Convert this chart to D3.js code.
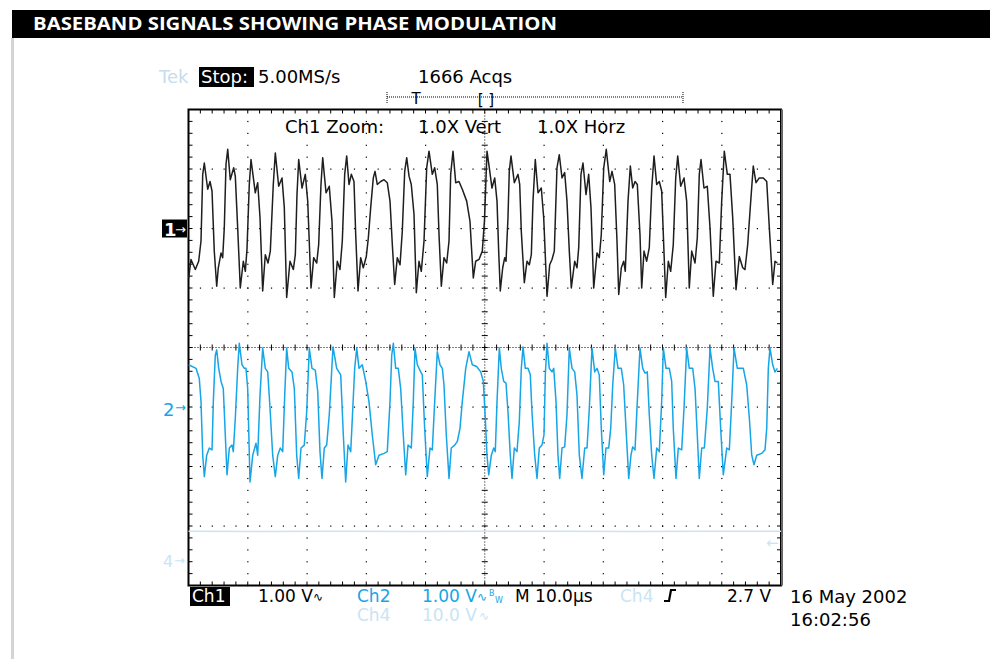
<!DOCTYPE html>
<html>
<head>
<meta charset="utf-8">
<script src="https://cdn.jsdelivr.net/npm/d3@7"></script>
<style>
  body { margin: 0; background: #fff; }
  svg text { font-family: "DejaVu Sans", sans-serif; font-size: 18px; }
</style>
</head>
<body>
<svg width="990" height="659"></svg>
<script>
// time in µs (10.0 µs/div), volts
const ch1Points = [
  [0.03,-0.83],[0.42,-0.52],[1.15,-0.69],[1.72,-0.55],[2.11,-0.21],[2.40,0.91],[2.67,1.10],[3.24,0.66],[3.63,0.79],[3.97,0.63],[4.35,-0.38],[4.76,-0.97],
  [5.03,-0.66],[5.49,-0.41],[5.77,-0.49],[6.04,0.01],[6.33,1.08],[6.62,1.33],[7.05,0.82],[7.63,1.02],[7.90,0.88],[8.30,0.01],[8.74,-1.00],
  [9.25,-0.55],[9.59,-0.72],[9.87,-0.35],[10.26,0.74],[10.55,1.16],[11.27,0.60],[11.68,0.77],[12.07,0.18],[12.52,-1.05],
  [12.96,-0.44],[13.42,-0.58],[13.81,-0.38],[14.31,0.74],[14.65,1.27],[15.22,0.71],[15.78,0.85],[16.17,0.35],[16.57,-1.16],
  [17.13,-0.55],[17.69,-0.69],[18.03,-0.44],[18.31,0.57],[18.60,1.16],[19.16,0.68],[19.71,0.91],[20.12,0.46],[20.68,-1.00],
  [21.13,-0.49],[21.64,-0.58],[21.97,-0.27],[22.36,0.74],[22.65,1.19],[23.21,0.60],[23.76,0.71],[24.22,0.12],[24.61,-1.16],
  [25.11,-0.55],[25.57,-0.69],[25.96,-0.21],[26.36,0.91],[26.70,1.22],[27.09,0.74],[27.48,0.91],[27.93,0.79],[28.22,-0.10],[28.61,-1.05],
  [29.06,-0.49],[29.50,-0.66],[30.01,-0.47],[30.35,-0.16],[30.75,0.35],[31.19,0.85],[31.48,0.96],[31.86,0.74],[32.44,0.79],[33.00,0.82],[33.55,0.77],[34.01,0.46],[34.40,-0.27],[34.80,-0.94],
  [35.24,-0.49],[35.70,-0.61],[36.08,-0.05],[36.49,0.96],[36.83,1.19],[37.22,0.88],[37.60,0.74],[38.06,0.24],[38.45,-1.08],
  [38.90,-0.55],[39.29,-0.72],[39.75,-0.21],[40.20,1.02],[40.59,1.30],[41.15,0.91],[41.55,1.02],[41.99,0.74],[42.28,-0.10],[42.67,-0.97],
  [43.12,-0.49],[43.58,-0.58],[43.97,-0.21],[44.25,0.91],[44.64,1.30],[45.10,0.77],[45.65,0.79],[46.21,0.66],[46.95,0.46],[47.51,0.12],[47.73,-0.27],[48.07,-0.83],
  [48.47,-0.55],[49.03,-0.52],[49.59,-0.38],[49.96,0.15],[50.38,1.30],[50.77,1.02],[51.22,0.68],[51.68,0.85],[52.07,0.46],[52.35,-0.38],[52.62,-1.05],
  [53.03,-0.66],[53.37,-0.49],[53.59,-0.55],[53.92,0.18],[54.14,0.96],[54.43,1.22],[54.99,0.77],[55.61,0.91],[55.90,0.74],[56.17,-0.05],[56.68,-0.91],
  [57.13,-0.55],[57.52,-0.61],[57.86,-0.44],[58.14,0.46],[58.53,1.16],[58.99,0.60],[59.54,0.68],[59.95,0.18],[60.51,-1.14],
  [60.96,-0.61],[61.35,-0.52],[61.74,-0.38],[62.19,1.02],[62.58,1.24],[63.04,0.85],[63.49,0.94],[63.88,0.46],[64.27,-0.38],[64.61,-1.00],
  [65.18,-0.55],[65.57,-0.66],[65.86,-0.32],[66.24,0.91],[66.58,1.10],[67.09,0.57],[67.54,0.91],[67.93,0.35],[68.39,-1.00],
  [68.95,-0.41],[69.33,-0.49],[69.67,-0.10],[70.08,1.02],[70.51,1.33],[71.09,0.79],[71.48,0.96],[71.93,0.74],[72.32,-0.21],[72.61,-1.11],
  [73.05,-0.66],[73.45,-0.55],[73.72,-0.72],[74.18,0.46],[74.57,1.05],[74.97,0.68],[75.36,0.79],[75.75,0.74],[76.20,-0.10],[76.49,-1.00],
  [76.88,-0.38],[77.33,-0.55],[77.77,-0.32],[78.18,0.68],[78.57,1.22],[79.02,0.74],[79.46,0.79],[79.86,0.63],[80.14,-0.10],[80.54,-1.16],
  [80.98,-0.55],[81.38,-0.72],[81.82,-0.27],[82.23,0.85],[82.57,1.22],[83.07,0.71],[83.63,0.85],[84.08,0.46],[84.52,-1.00],
  [84.93,-0.38],[85.49,-0.58],[85.87,-0.16],[86.21,0.91],[86.50,1.16],[87.00,0.68],[87.56,0.71],[88.02,0.01],[88.57,-1.14],
  [89.03,-0.55],[89.59,-0.58],[89.99,0.46],[90.43,1.30],[90.94,0.91],[91.39,0.91],[91.85,0.18],[92.41,-1.03],
  [92.96,-0.47],[93.54,-0.66],[93.92,-0.69],[94.38,-0.27],[94.89,0.46],[95.32,1.05],[95.78,0.77],[96.34,0.85],[97.01,0.85],[97.59,0.79],[98.03,0.01],[98.60,-0.94],
  [98.99,-0.55],[99.38,-0.58]
];

const ch2Points = [
  [0.03,0.71],[1.27,0.65],[1.82,0.48],[2.11,0.09],[2.40,-0.81],[2.67,-1.17],[3.07,-0.81],[3.51,-0.69],[3.97,-0.72],[4.19,0.09],[4.52,0.87],[4.76,0.96],
  [5.10,0.65],[5.49,0.43],[5.87,0.31],[6.21,-0.47],[6.50,-1.14],[6.89,-0.69],[7.34,-0.64],[7.56,-0.75],[7.90,-0.19],[8.30,0.65],[8.57,1.07],
  [9.03,0.71],[9.42,0.65],[9.70,0.65],[9.99,0.31],[10.38,-1.26],[10.84,-0.81],[11.39,-0.61],[11.68,-0.81],[12.07,0.20],[12.52,0.99],
  [12.96,0.65],[13.37,0.59],[13.76,-0.02],[14.21,-0.81],[14.65,-1.17],[15.06,-0.81],[15.49,-0.69],[15.90,-0.75],[16.24,0.20],[16.57,0.99],
  [16.91,0.65],[17.47,0.59],[17.86,0.31],[18.26,-0.81],[18.60,-1.20],[18.99,-0.69],[19.54,-0.64],[19.95,-0.08],[20.39,0.99],
  [20.84,0.65],[21.40,0.62],[21.81,0.26],[22.19,-0.75],[22.53,-1.20],[22.92,-0.69],[23.32,-0.64],[23.76,-0.13],[24.39,1.01],
  [25.01,0.65],[25.69,0.54],[26.13,-0.47],[26.53,-1.26],[26.92,-0.64],[27.38,-0.75],[27.65,-0.19],[28.05,0.65],[28.39,0.99],
  [28.78,0.65],[29.33,0.71],[29.91,0.43],[30.46,0.09],[31.02,-0.47],[31.59,-0.97],[32.15,-0.81],[33.00,-0.78],[33.55,-0.75],[34.01,0.09],[34.30,0.87],[34.57,1.07],
  [34.97,0.65],[35.41,0.65],[35.81,0.31],[36.25,-0.47],[36.66,-1.14],[37.05,-0.64],[37.60,-0.69],[37.94,0.09],[38.23,0.99],
  [38.62,0.71],[39.19,0.59],[39.46,0.54],[39.86,-0.36],[40.30,-1.17],[40.76,-0.69],[41.15,-0.72],[41.55,0.09],[41.99,0.93],
  [42.45,0.71],[42.84,0.65],[43.12,0.37],[43.51,-0.47],[43.97,-1.20],[44.35,-0.69],[44.93,-0.64],[45.37,-0.58],[45.82,-0.36],[46.21,0.09],[46.79,0.65],[47.34,0.93],
  [47.90,0.71],[48.64,0.68],[49.32,0.59],[49.76,0.43],[50.09,-0.19],[50.38,-0.81],[50.67,-1.14],[51.11,-0.81],[51.51,-0.69],[51.78,-0.75],[52.07,0.09],[52.46,0.99],
  [52.79,0.65],[53.20,0.43],[53.59,0.40],[53.92,-0.08],[54.31,-0.81],[54.60,-1.20],[54.99,-0.69],[55.44,-0.75],[55.83,-0.25],[56.17,0.65],[56.46,1.01],
  [56.84,0.65],[57.30,0.65],[57.69,0.54],[57.97,-0.08],[58.43,-0.81],[58.82,-1.20],[59.21,-0.69],[59.66,-0.64],[60.00,-0.47],[60.22,0.54],[60.51,1.07],
  [60.89,0.65],[61.35,0.59],[61.64,0.65],[62.03,0.09],[62.36,-0.81],[62.65,-1.20],[63.04,-0.69],[63.49,-0.67],[63.88,-0.13],[64.27,0.99],
  [64.73,0.65],[65.18,0.59],[65.57,0.20],[65.96,-0.81],[66.41,-1.20],[66.87,-0.69],[67.26,-0.69],[67.65,-0.02],[68.10,0.99],
  [68.56,0.59],[68.95,0.65],[69.33,0.54],[69.67,-0.36],[70.08,-1.14],[70.46,-0.69],[70.92,-0.69],[71.26,-0.36],[71.60,0.37],[72.03,0.99],
  [72.49,0.65],[73.05,0.65],[73.45,0.37],[73.84,-0.36],[74.30,-1.20],[74.68,-0.81],[74.97,-0.67],[75.36,-0.72],[75.75,0.09],[76.20,0.99],
  [76.66,0.65],[77.05,0.57],[77.43,0.59],[77.77,-0.13],[78.18,-0.81],[78.57,-1.20],[79.02,-0.69],[79.46,-0.75],[79.86,0.09],[80.14,0.99],
  [80.59,0.65],[81.15,0.65],[81.55,0.43],[81.82,-0.36],[82.28,-1.20],[82.67,-0.69],[83.24,-0.72],[83.63,-0.02],[84.08,0.99],
  [84.52,0.65],[85.10,0.65],[85.49,0.31],[85.87,-0.47],[86.21,-1.20],[86.62,-0.69],[87.06,-0.69],[87.56,-0.02],[88.02,0.99],
  [88.47,0.65],[88.86,0.43],[89.42,0.43],[89.82,-0.36],[90.26,-1.14],[90.84,-0.69],[91.28,-0.72],[91.68,0.09],[92.07,0.99],
  [92.63,0.65],[93.08,0.65],[93.64,0.65],[94.21,0.37],[94.66,-0.19],[95.06,-0.81],[95.44,-0.97],[95.90,-0.81],[96.74,-0.78],[97.30,-0.72],[97.59,-0.36],[97.86,0.65],[98.14,0.99],
  [98.60,0.71],[98.99,0.59],[99.38,0.65]
];

const ch4Points = [[0,4.8],[12,4.78],[25,4.82],[38,4.79],[50,4.8],[62,4.83],[75,4.79],[88,4.81],[100,4.8]];

// channel settings: ground marker position (div from centre), volts per div
const channelNames = ["1", "2", "4"];
const channelOffsets = [2, -1, -3.57];
const voltsPerDiv = [1, 1, 10];
const channelColors = ["#1e1e1e", "#16a5e6", "#c9e4f3"];

const topLabels = ["Tek", "Stop:", "5.00MS/s", "1666 Acqs"];
const zoomLabels = ["Ch1 Zoom:", "1.0X Vert", "1.0X Horz"];
const dateLabels = ["16 May 2002", "16:02:56"];

const svg = d3.select("svg");

// title bar
svg.append("rect").attr("x", 12).attr("y", 10).attr("width", 978).attr("height", 28).attr("fill", "#000");
svg.append("text")
  .attr("x", 33).attr("y", 30)
  .attr("fill", "#fff")
  .style("font-family", "'Open Sans', sans-serif")
  .style("font-weight", 700)
  .style("font-size", "17px")
  .attr("textLength", 524)
  .attr("lengthAdjust", "spacingAndGlyphs")
  .text("BASEBAND SIGNALS SHOWING PHASE MODULATION");
svg.append("rect").attr("x", 11).attr("y", 38).attr("width", 3).attr("height", 621).attr("fill", "#d4d4d4");

const x = d3.scaleLinear().domain([0, 100]).range([188.5, 781]);
const yDiv = d3.scaleLinear().domain([-4, 4]).range([585.5, 109.5]);

// graticule
const grat = svg.append("g").attr("fill", "#000");
const minorX = d3.range(0, 100.01, 2);
const minorY = d3.range(-4, 4.01, 0.2);

// dots along major lines
for (let i = 1; i < 10; i++) {
  if (i === 5) continue;
  grat.selectAll(null).data(minorY).enter().append("rect")
    .attr("x", x(i * 10) - 0.5).attr("y", d => yDiv(d) - 0.5)
    .attr("width", 1.2).attr("height", 1.2);
}
for (let j = -3; j <= 3; j++) {
  if (j === 0) continue;
  grat.selectAll(null).data(minorX).enter().append("rect")
    .attr("x", d => x(d) - 0.5).attr("y", yDiv(j) - 0.5)
    .attr("width", 1.2).attr("height", 1.2);
}

// centre lines: fine dotted with ticks
grat.append("line").attr("x1", x(0)).attr("x2", x(100)).attr("y1", yDiv(0)).attr("y2", yDiv(0))
  .attr("stroke", "#000").attr("stroke-width", 1).attr("stroke-dasharray", "1,2");
grat.append("line").attr("x1", x(50)).attr("x2", x(50)).attr("y1", yDiv(4)).attr("y2", yDiv(-4))
  .attr("stroke", "#000").attr("stroke-width", 1).attr("stroke-dasharray", "1,2");
grat.selectAll(null).data(minorX).enter().append("line")
  .attr("x1", d => x(d)).attr("x2", d => x(d))
  .attr("y1", yDiv(0) - 3).attr("y2", yDiv(0) + 3)
  .attr("stroke", "#000").attr("stroke-width", 1);
grat.selectAll(null).data(minorY).enter().append("line")
  .attr("x1", x(50) - 3).attr("x2", x(50) + 3)
  .attr("y1", d => yDiv(d)).attr("y2", d => yDiv(d))
  .attr("stroke", "#000").attr("stroke-width", 1);

// edge ticks
grat.selectAll(null).data(minorX).enter().append("line")
  .attr("x1", d => x(d)).attr("x2", d => x(d))
  .attr("y1", yDiv(4)).attr("y2", yDiv(4) + 4)
  .attr("stroke", "#000");
grat.selectAll(null).data(minorX).enter().append("line")
  .attr("x1", d => x(d)).attr("x2", d => x(d))
  .attr("y1", yDiv(-4)).attr("y2", yDiv(-4) - 4)
  .attr("stroke", "#000");
grat.selectAll(null).data(minorY).enter().append("line")
  .attr("x1", x(0)).attr("x2", x(0) + 4)
  .attr("y1", d => yDiv(d)).attr("y2", d => yDiv(d))
  .attr("stroke", "#000");
grat.selectAll(null).data(minorY).enter().append("line")
  .attr("x1", x(100)).attr("x2", x(100) - 4)
  .attr("y1", d => yDiv(d)).attr("y2", d => yDiv(d))
  .attr("stroke", "#000");

grat.append("rect")
  .attr("x", x(0)).attr("y", yDiv(4))
  .attr("width", x(100) - x(0)).attr("height", yDiv(-4) - yDiv(4))
  .attr("fill", "none").attr("stroke", "#000").attr("stroke-width", 2);
grat.append("line").attr("x1", x(100) + 1).attr("x2", x(100) + 1).attr("y1", yDiv(4)).attr("y2", yDiv(-4))
  .attr("stroke", "#666").attr("stroke-width", 2);

// traces
const traces = [ch1Points, ch2Points, ch4Points];
traces.forEach((pts, k) => {
  const line = d3.line()
    .x(d => x(d[0]))
    .y(d => yDiv(channelOffsets[k] + d[1] / voltsPerDiv[k]));
  svg.append("path")
    .datum(pts)
    .attr("d", line)
    .attr("fill", "none")
    .attr("stroke", channelColors[k])
    .attr("stroke-width", 1.5)
    .attr("stroke-linejoin", "round");
});

// ground markers
const m1 = yDiv(channelOffsets[0]);
svg.append("rect").attr("x", 162).attr("y", m1 - 9).attr("width", 25).attr("height", 18).attr("fill", "#000");
svg.append("text").attr("x", 164).attr("y", m1 + 7).attr("fill", "#fff").style("font-weight", "bold").text(channelNames[0]);
svg.append("text").attr("x", 175).attr("y", m1 + 5).attr("fill", "#fff").style("font-size", "13px").text("→");
const m2 = yDiv(channelOffsets[1]);
svg.append("text").attr("x", 163).attr("y", m2 + 9).attr("fill", channelColors[1]).text(channelNames[1]);
svg.append("text").attr("x", 175).attr("y", m2 + 5).attr("fill", channelColors[1]).style("font-size", "13px").text("→");
const m4 = yDiv(channelOffsets[2]);
svg.append("text").attr("x", 163).attr("y", m4 + 7).attr("fill", channelColors[2]).style("font-size", "16px").text(channelNames[2]);
svg.append("text").attr("x", 174).attr("y", m4 + 5).attr("fill", channelColors[2]).style("font-size", "13px").text("→");
svg.append("text").attr("x", 766).attr("y", m4 - 12).attr("fill", channelColors[2]).style("font-size", "15px").text("←");

// top readout
svg.append("text").attr("x", 159).attr("y", 83).attr("fill", "#c7dced").text(topLabels[0]);
svg.append("rect").attr("x", 199).attr("y", 67).attr("width", 55).attr("height", 20).attr("fill", "#000");
svg.append("text").attr("x", 201).attr("y", 83).attr("fill", "#fff").text(topLabels[1]);
svg.append("text").attr("x", 258).attr("y", 83).attr("fill", "#000").text(topLabels[2]);
svg.append("text").attr("x", 418).attr("y", 83).attr("fill", "#000").text(topLabels[3]);

// record/trigger bar
svg.append("line").attr("x1", 387).attr("x2", 683).attr("y1", 97).attr("y2", 97)
  .attr("stroke", "#000").attr("stroke-dasharray", "1,1");
[387, 683].forEach(px => {
  svg.append("line").attr("x1", px).attr("x2", px).attr("y1", 92).attr("y2", 103).attr("stroke", "#000").attr("stroke-dasharray", "1,1");
});
svg.append("text").attr("x", 416).attr("y", 104).attr("text-anchor", "middle").style("font-size", "15px").text("T");
svg.append("text").attr("x", 486).attr("y", 105).attr("text-anchor", "middle").style("font-size", "15px").text("[ ]");

[285, 418, 537].forEach((px, i) => {
  svg.append("text").attr("x", px).attr("y", 133).text(zoomLabels[i]);
});

// bottom readout
const bottom = svg.append("g").style("font-size", "17px");
bottom.append("rect").attr("x", 190).attr("y", 587).attr("width", 40).attr("height", 19).attr("fill", "#000");
bottom.append("text").attr("x", 192).attr("y", 602).style("font-size", "17px").attr("fill", "#fff").text("Ch1");
bottom.append("text").attr("x", 258).attr("y", 602).style("font-size", "17px").text("1.00 V");
bottom.append("text").attr("x", 313).attr("y", 601).style("font-size", "12px").text("∿");
bottom.append("text").attr("x", 357).attr("y", 602).style("font-size", "17px").attr("fill", channelColors[1]).text("Ch2");
bottom.append("text").attr("x", 422).attr("y", 602).style("font-size", "17px").attr("fill", channelColors[1]).text("1.00 V");
bottom.append("text").attr("x", 477).attr("y", 601).style("font-size", "12px").attr("fill", channelColors[1]).text("∿");
bottom.append("text").attr("x", 489).attr("y", 596).style("font-size", "8px").attr("fill", channelColors[1]).text("B");
bottom.append("text").attr("x", 495).attr("y", 603).style("font-size", "8px").attr("fill", channelColors[1]).text("W");
bottom.append("text").attr("x", 515).attr("y", 602).style("font-size", "17px").text("M 10.0µs");
bottom.append("text").attr("x", 620).attr("y", 602).style("font-size", "17px").attr("fill", channelColors[2]).text("Ch4");
bottom.append("path").attr("d", "M664,601 L669,601 L671,590 L676,590")
  .attr("fill", "none").attr("stroke", "#000").attr("stroke-width", 2.2);
bottom.append("text").attr("x", 727).attr("y", 602).style("font-size", "17px").text("2.7 V");
bottom.append("text").attr("x", 357).attr("y", 621).style("font-size", "17px").attr("fill", channelColors[2]).text("Ch4");
bottom.append("text").attr("x", 422).attr("y", 621).style("font-size", "17px").attr("fill", channelColors[2]).text("10.0 V");
bottom.append("text").attr("x", 479).attr("y", 620).style("font-size", "12px").attr("fill", channelColors[2]).text("∿");

svg.append("text").attr("x", 790).attr("y", 603).text(dateLabels[0]);
svg.append("text").attr("x", 790).attr("y", 626).text(dateLabels[1]);
</script>
</body>
</html>
